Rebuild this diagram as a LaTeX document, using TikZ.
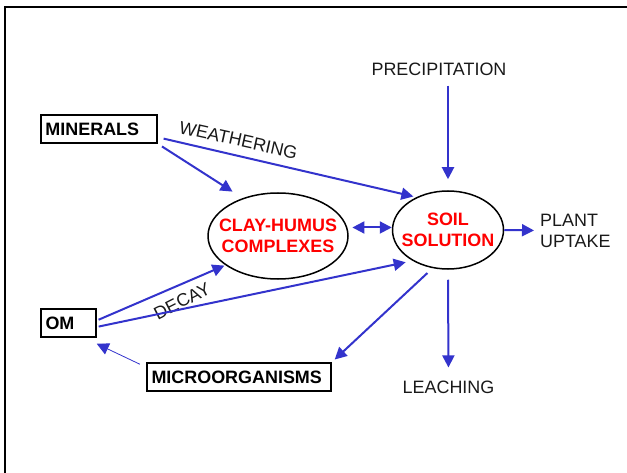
\documentclass[tikz,border=0pt]{standalone}
\usepackage{fontspec}
\setmainfont{Liberation Sans}
\usetikzlibrary{shapes.geometric,arrows.meta}
\definecolor{flowblue}{RGB}{51,51,204}
\newcommand{\diafont}{\fontsize{18}{21}\selectfont}
\tikzset{
	pool/.style={draw, line width=1.5bp, font=\diafont\bfseries, align=left, inner xsep=4.5bp, inner ysep=0bp, minimum height=28bp},
	blob/.style={ellipse, draw, line width=1.5bp, inner xsep=-14bp, inner ysep=0bp, text=red, font=\diafont\bfseries, align=center},
	lbl/.style={inner sep=0bp, text=black!90, font=\diafont, align=left},
	flow/.style={draw=flowblue, line width=2bp, ->, >={Triangle[length=12bp,width=12bp]}}
}

\begin{document}
\begin{tikzpicture}[x=1bp, y=-1bp]
			%%%%% START %%%%%
			\useasboundingbox (0,0) rectangle (627,473);
			\draw[line width=2bp] (5,473) -- (5,7.5) -- (627,7.5);
			
			\node[pool, text width=107bp] (minerals) at (99,129) {MINERALS};
			\node[pool, text width=46bp] (om) at (68.5,323) {OM};
			\node[pool, text width=175bp] (micro) at (239,377) {MICROORGANISMS};
			
			\node[blob, minimum width=140bp, minimum height=86bp] (clay) at (278,236) {CLAY-HUMUS\\COMPLEXES};
			\node[blob, minimum width=111bp, minimum height=78bp] (soil) at (448,230) {SOIL\\SOLUTION};
			
			\node[lbl] (precip) at (439,69) {PRECIPITATION};
			\node[lbl] (leach) at (448.5,387) {LEACHING};
			\node[lbl, anchor=west] (plant) at (540,230.5) {PLANT\\UPTAKE};
			\node[lbl, rotate=-12.5] (weath) at (238.5,140) {WEATHERING};
			\node[lbl, rotate=27] (decay) at (182,301) {DECAY};
			
			\draw[flow, shorten <=5bp, shorten >=12bp] (minerals.south east) -- (clay.133);
			\draw[flow, shorten <=6bp, shorten >=3bp] (minerals.-8) -- (soil.134);
			\draw[flow, shorten <=2bp, shorten >=1bp] (om.5) -- (clay.209);
			\draw[flow, shorten <=2bp, shorten >=7bp] (om.-8) -- (soil.221);
			\draw[flow, <->, shorten <=5bp] (clay.7) -- (clay.7 -| soil.west);
			
			\draw[flow, shorten <=10bp, shorten >=11bp] (precip.south -| soil.north) -- (soil.north);
			\draw[flow, shorten >=6bp] (soil.east) -- (plant.west);
			\draw[flow, shorten <=10bp, shorten >=13bp] (soil.south) -- (leach.north);
			\draw[flow, shorten <=7bp, shorten >=4bp] (soil.248) -- (micro.north east);
			\draw[flow, line width=0.8bp, shorten <=7bp] (micro.174) -- ([yshift=-6bp]om.south east);
			%%%%% END %%%%%
\end{tikzpicture}
\end{document}
